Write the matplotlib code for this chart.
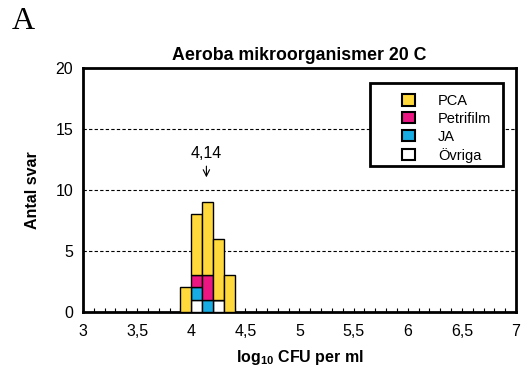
import numpy as np
import matplotlib.pyplot as plt
from matplotlib.patches import Patch, Rectangle

plt.rcParams['font.family'] = ['Liberation Sans', 'DejaVu Sans']
plt.rcParams['mathtext.fontset'] = 'custom'
plt.rcParams['mathtext.bf'] = 'Liberation Sans:bold'
plt.rcParams['mathtext.rm'] = 'Liberation Sans'

# bin left edges (log10 CFU per ml), width 0.1
bins = [3.9, 4.0, 4.1, 4.2, 4.3]
ovriga = [0, 1, 0, 1, 0]
ja = [0, 1, 1, 0, 0]
petrifilm = [0, 1, 2, 0, 0]
pca = [2, 5, 6, 5, 3]

labels = ['PCA', 'Petrifilm', 'JA', 'Övriga']
colors = ['#FFD93B', '#EC1683', '#17ACE3', '#FFFFFF']

median = 4.14

fig = plt.figure(figsize=(5.22, 3.69), dpi=100)
ax = fig.add_axes([0.159, 0.155, 0.8295, 0.661])

bottom = np.zeros(len(bins))
for vals, col in [(ovriga, colors[3]), (ja, colors[2]),
                  (petrifilm, colors[1]), (pca, colors[0])]:
    vals = np.array(vals)
    ax.bar(bins, vals, width=0.1, bottom=bottom, align='edge',
           color=col, edgecolor='black', linewidth=1.0, zorder=3)
    bottom += vals

for y in [5, 10, 15]:
    ax.axhline(y, color='black', linestyle=(0, (3, 2)), linewidth=0.8, zorder=1)

ax.set_xlim(3, 7)
ax.set_ylim(0, 20)
ax.set_xticks(np.arange(3, 7.01, 0.5))
ax.set_xticklabels(['3', '3,5', '4', '4,5', '5', '5,5', '6', '6,5', '7'])
ax.set_xticks(np.arange(3, 7.01, 0.1), minor=True)
ax.set_yticks([0, 5, 10, 15, 20])
ax.tick_params(axis='x', which='both', direction='in', length=3, width=0.8,
               labelsize=11.5, pad=9)
ax.tick_params(axis='y', length=0, labelsize=11.5, pad=7)
for s in ax.spines.values():
    s.set_linewidth(2)

ax.set_title('Aeroba mikroorganismer 20 C', fontsize=12.8, fontweight='bold', pad=6)
ax.set_xlabel(r'log$_{\mathbf{10}}$ CFU per ml', fontsize=11.5, fontweight='bold', labelpad=6)
ax.set_ylabel('Antal svar', fontsize=11.5, fontweight='bold', labelpad=11)

ax.annotate('4,14', xy=(median, 10.8), xytext=(median, 12.4),
            ha='center', va='bottom', fontsize=11.5,
            arrowprops=dict(arrowstyle='->', color='black', lw=0.8))

# legend frame drawn separately so the entries can sit to the right
ax.add_patch(Rectangle((0.663, 0.598), 0.307, 0.3405, transform=ax.transAxes,
                       facecolor='white', edgecolor='black', linewidth=2,
                       zorder=5))
handles = [Patch(facecolor=c, edgecolor='black', linewidth=1.5) for c in colors]
leg = ax.legend(handles, labels, loc='upper left', bbox_to_anchor=(0.737, 0.894),
                fontsize=10.5, frameon=False, handlelength=0.85,
                handleheight=0.85, handletextpad=1.6, labelspacing=0.27,
                borderpad=0, borderaxespad=0)
leg.set_zorder(6)

fig.text(0.022, 0.922, 'A', fontsize=23, family='Liberation Serif')

fig.savefig('out.png', dpi=100)
